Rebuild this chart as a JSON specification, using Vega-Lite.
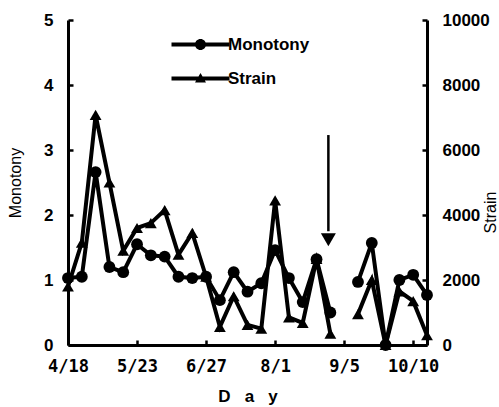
{
  "$schema": "https://vega.github.io/schema/vega-lite/v6.json",
  "width": 359,
  "height": 325,
  "autosize": {"type": "none"},
  "padding": {"left": 68, "top": 20, "right": 72, "bottom": 62},
  "background": "white",
  "config": {
    "view": {"stroke": null},
    "axis": {
      "grid": false,
      "domainColor": "black",
      "domainWidth": 3,
      "tickColor": "black",
      "tickWidth": 2.5,
      "labelColor": "black",
      "titleColor": "black",
      "labelFont": "Liberation Sans",
      "labelFontWeight": "bold",
      "labelFontSize": 17,
      "titleFont": "Liberation Sans",
      "titleFontSize": 16,
      "titleFontWeight": "normal"
    }
  },
  "datasets": {
    "weekly": [
      {"date": "2005-04-18", "monotony": 1.03, "strain": 1800},
      {"date": "2005-04-25", "monotony": 1.05, "strain": 3150},
      {"date": "2005-05-02", "monotony": 2.66, "strain": 7080},
      {"date": "2005-05-09", "monotony": 1.2, "strain": 5000},
      {"date": "2005-05-16", "monotony": 1.12, "strain": 2900},
      {"date": "2005-05-23", "monotony": 1.55, "strain": 3600},
      {"date": "2005-05-30", "monotony": 1.38, "strain": 3750},
      {"date": "2005-06-06", "monotony": 1.36, "strain": 4150},
      {"date": "2005-06-13", "monotony": 1.05, "strain": 2780},
      {"date": "2005-06-20", "monotony": 1.03, "strain": 3450},
      {"date": "2005-06-27", "monotony": 1.05, "strain": 2100},
      {"date": "2005-07-04", "monotony": 0.69, "strain": 560},
      {"date": "2005-07-11", "monotony": 1.12, "strain": 1500},
      {"date": "2005-07-18", "monotony": 0.82, "strain": 620},
      {"date": "2005-07-25", "monotony": 0.95, "strain": 500},
      {"date": "2005-08-01", "monotony": 1.46, "strain": 4450},
      {"date": "2005-08-08", "monotony": 1.03, "strain": 850},
      {"date": "2005-08-15", "monotony": 0.66, "strain": 680},
      {"date": "2005-08-22", "monotony": 1.32, "strain": 2650},
      {"date": "2005-08-29", "monotony": 0.5, "strain": 350},
      {"date": "2005-09-05", "monotony": null, "strain": null},
      {"date": "2005-09-12", "monotony": 0.97, "strain": 950},
      {"date": "2005-09-19", "monotony": 1.57, "strain": 2000},
      {"date": "2005-09-26", "monotony": 0.0, "strain": 0},
      {"date": "2005-10-03", "monotony": 1.0, "strain": 1650},
      {"date": "2005-10-10", "monotony": 1.08, "strain": 1350},
      {"date": "2005-10-17", "monotony": 0.77, "strain": 300}
    ],
    "marker": [
      {"date": "2005-08-28", "top": 3.23, "bottom": 1.75, "head": 1.62}
    ]
  },
  "data": {"name": "weekly"},
  "encoding": {
    "x": {
      "field": "date",
      "type": "temporal",
      "scale": {
        "type": "utc",
        "domain": [
          {"year": 2005, "month": 4, "date": 18, "utc": true},
          {"year": 2005, "month": 10, "date": 17, "utc": true}
        ]
      },
      "axis": {
        "values": [
          {"year": 2005, "month": 4, "date": 18, "utc": true},
          {"year": 2005, "month": 5, "date": 23, "utc": true},
          {"year": 2005, "month": 6, "date": 27, "utc": true},
          {"year": 2005, "month": 8, "date": 1, "utc": true},
          {"year": 2005, "month": 9, "date": 5, "utc": true},
          {"year": 2005, "month": 10, "date": 10, "utc": true}
        ],
        "labelExpr": "utcFormat(datum.value, '%-m/%-d')",
        "labelOverlap": false,
        "labelFlush": false,
        "title": "D\u00a0\u00a0\u00a0a\u00a0\u00a0\u00a0y",
        "labelFont": "DejaVu Sans Mono",
        "labelFontSize": 17,
        "tickSize": -5,
        "labelPadding": 18,
        "titleFont": "Liberation Sans",
        "titleFontWeight": "bold",
        "titleFontSize": 17,
        "titlePadding": 14
      }
    }
  },
  "layer": [
    {
      "encoding": {
        "y": {
          "field": "monotony",
          "type": "quantitative",
          "scale": {"domain": [0, 5], "nice": false},
          "axis": {
            "orient": "left",
            "values": [0, 1, 2, 3, 4, 5],
            "title": "Monotony",
            "tickSize": -5,
            "labelPadding": 20,
            "titlePadding": 20
          }
        }
      },
      "layer": [
        {
          "mark": {"type": "line", "color": "black", "strokeWidth": 4}
        },
        {
          "mark": {"type": "point", "shape": "circle", "filled": true, "color": "black", "size": 140, "opacity": 1}
        },
        {
          "data": {"name": "marker"},
          "mark": {"type": "rule", "color": "black", "strokeWidth": 2.5},
          "encoding": {
            "y": {"field": "top", "type": "quantitative", "title": "Monotony"},
            "y2": {"field": "bottom"}
          }
        },
        {
          "data": {"name": "marker"},
          "mark": {"type": "point", "shape": "triangle-down", "filled": true, "color": "black", "size": 225, "opacity": 1},
          "encoding": {
            "y": {"field": "head", "type": "quantitative", "title": "Monotony"}
          }
        },
        {
          "data": {"name": "marker"},
          "mark": {"type": "point", "filled": true, "color": "black", "size": 100, "opacity": 0},
          "encoding": {
            "y": {"field": "head", "type": "quantitative", "title": "Monotony"},
            "shape": {
              "datum": "Monotony",
              "type": "nominal",
              "scale": {
                "domain": ["Monotony", "Strain"],
                "range": [
                  "M-5.8,-0.4H5.8V0.4H-5.8ZM1.1,0A1.1,1.1,0,1,1,-1.1,0A1.1,1.1,0,1,1,1.1,0Z",
                  "M-5.8,-0.4H5.8V0.4H-5.8ZM-1.1,0.8L0,-1.1L1.1,0.8Z"
                ]
              },
              "legend": {
                "orient": "none",
                "legendX": 124,
                "legendY": 16,
                "title": null,
                "padding": 0,
                "offset": 0,
                "labelFont": "Liberation Sans",
                "labelFontWeight": "bold",
                "labelFontSize": 17,
                "labelColor": "black",
                "symbolSize": 100,
                "symbolOpacity": 1,
                "symbolFillColor": "black",
                "symbolStrokeColor": "black",
                "symbolStrokeWidth": 0,
                "labelOffset": 19,
                "rowPadding": 16
              }
            }
          }
        }
      ]
    },
    {
      "encoding": {
        "y": {
          "field": "strain",
          "type": "quantitative",
          "scale": {"domain": [0, 10000], "nice": false},
          "axis": {
            "orient": "right",
            "values": [0, 2000, 4000, 6000, 8000, 10000],
            "format": "d",
            "title": "Strain",
            "tickSize": -5,
            "labelPadding": 20,
            "titleAngle": 270,
            "titleX": 68,
            "titleY": 192,
            "titleAlign": "center",
            "titleBaseline": "alphabetic"
          }
        }
      },
      "layer": [
        {
          "mark": {"type": "line", "color": "black", "strokeWidth": 4}
        },
        {
          "mark": {"type": "point", "shape": "triangle-up", "filled": true, "color": "black", "size": 140, "opacity": 1}
        },
        {
          "data": {"name": "marker"},
          "mark": {"type": "point", "filled": true, "color": "black", "size": 100, "opacity": 0},
          "encoding": {
            "y": {"datum": 0, "type": "quantitative"},
            "shape": {"datum": "Strain", "type": "nominal"}
          }
        }
      ]
    }
  ],
  "resolve": {"scale": {"y": "independent"}, "axis": {"y": "independent"}}
}
